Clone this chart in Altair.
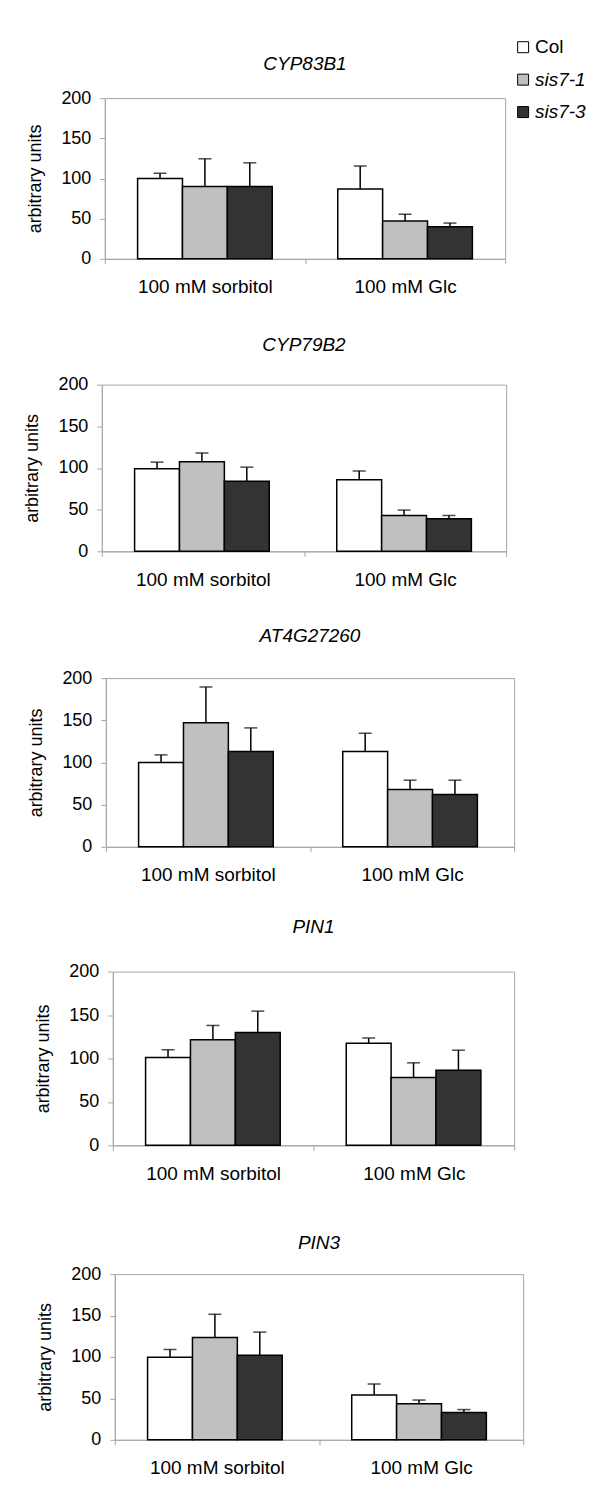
import altair as alt
import pandas as pd

# ---------------- data ----------------
genes = ["CYP83B1", "CYP79B2", "AT4G27260", "PIN1", "PIN3"]
conditions = ["100 mM sorbitol", "100 mM Glc"]
series = ["Col", "sis7-1", "sis7-3"]
series_colors = ["#ffffff", "#c0c0c0", "#333333"]

# values ordered: sorbitol (Col, sis7-1, sis7-3), Glc (Col, sis7-1, sis7-3)
cyp83b1_mean = [100, 90, 90, 87, 47, 40]
cyp83b1_err = [6.5, 34.5, 29.5, 28.5, 8.5, 4.5]
cyp79b2_mean = [99, 107.5, 84, 86, 43, 39]
cyp79b2_err = [8, 10.5, 17, 10.5, 6.5, 4]
at4g27260_mean = [100, 147, 113, 113, 68, 62]
at4g27260_err = [9, 42.5, 28, 21.5, 11, 17]
pin1_mean = [101, 121.5, 130, 117.5, 78, 86.5]
pin1_err = [9, 16.5, 24.5, 6, 17, 23]
pin3_mean = [99.5, 123.5, 102, 54, 43.5, 33]
pin3_err = [9.5, 28, 28, 13.5, 4.5, 3.5]

means = [cyp83b1_mean, cyp79b2_mean, at4g27260_mean, pin1_mean, pin3_mean]
errs = [cyp83b1_err, cyp79b2_err, at4g27260_err, pin1_err, pin3_err]
y_ticks = [0, 50, 100, 150, 200]

# ---------------- layout ----------------
panel_w = [401, 405, 409, 402, 409]
panel_h = [161, 167, 169, 174, 166]
left_shift = [4, 1, 5, 12, 14]
row_h = [236, 241, 238, 261, 10]
title_off = [15, 21, 23, 26, 12]

FONT = "Liberation Sans"
FS = 18
GRAY = "#a6a6a6"

fill_scale = alt.Scale(domain=series, range=series_colors)


def make_df(mean, err):
    rows = []
    k = 0
    for c in conditions:
        for s in series:
            rows.append({"condition": c, "series": s, "value": mean[k], "err": err[k]})
            k += 1
    return pd.DataFrame(rows)


def panel(i):
    df = make_df(means[i], errs[i])
    base = alt.Chart(df).transform_calculate(top="datum.value + datum.err")
    x = alt.X(
        "condition:N",
        sort=conditions,
        scale=alt.Scale(paddingInner=0, paddingOuter=0),
        axis=alt.Axis(title=None, labelAngle=0, tickBand="extent", tickSize=5,
                      labelPadding=14, labelFontSize=19, domainColor=GRAY,
                      tickColor=GRAY),
    )
    xo = alt.XOffset("series:N", sort=series,
                     scale=alt.Scale(paddingInner=0, paddingOuter=0.73))
    yscale = alt.Scale(domain=[0, 200], nice=False)
    yaxis = alt.Axis(values=y_ticks, title="arbitrary units", tickSize=5,
                     labelPadding=9, titlePadding=16, domainColor=GRAY,
                     tickColor=GRAY)
    bars = base.mark_bar(stroke="black", strokeWidth=1.5).encode(
        x=x, xOffset=xo, y=alt.Y("value:Q", scale=yscale, axis=yaxis),
        fill=alt.Fill("series:N", scale=fill_scale, legend=None),
    )
    rules = base.mark_rule(color="black", strokeWidth=1.5).encode(
        x=x, xOffset=xo, y=alt.Y("value:Q", scale=yscale, axis=yaxis), y2="top:Q"
    )
    caps = base.mark_tick(color="black", thickness=1.5, size=13, orient="horizontal").encode(
        x=x, xOffset=xo, y=alt.Y("top:Q", scale=yscale, axis=yaxis)
    )
    return alt.layer(bars, rules, caps).properties(
        width=panel_w[i], height=panel_h[i],
        title=alt.Title(genes[i], font=FONT, fontSize=19, fontStyle="italic",
                        fontWeight="normal", color="black", offset=title_off[i],
                        anchor="middle"),
        view=alt.ViewBackground(stroke=GRAY, strokeWidth=1),
    )


def legend_chart():
    leg_df = pd.DataFrame({"series": series})
    leg_y = alt.Y("series:N", sort=series, axis=None,
                  scale=alt.Scale(type="point", domain=series, range=[-51, 14], padding=0))
    squares = alt.Chart(leg_df).mark_square(size=121, stroke="black", strokeWidth=1,
                                            opacity=1).encode(
        x=alt.value(16), y=leg_y,
        fill=alt.Fill("series:N", scale=fill_scale, legend=None),
    )
    txt_col = alt.Chart(leg_df).transform_filter("datum.series == 'Col'").mark_text(
        align="left", baseline="middle", font=FONT, fontSize=19, color="black"
    ).encode(x=alt.value(28), y=leg_y, text="series:N")
    txt_sis = alt.Chart(leg_df).transform_filter("datum.series != 'Col'").mark_text(
        align="left", baseline="middle", font=FONT, fontSize=19, color="black",
        fontStyle="italic"
    ).encode(x=alt.value(28), y=leg_y, text="series:N")
    return alt.layer(squares, txt_col, txt_sis).properties(
        width=70, height=20, view=alt.ViewBackground(stroke="transparent"))


def spacer(w, h):
    return alt.Chart(pd.DataFrame({"s": [0]})).mark_point(size=0, opacity=0).encode(
        x=alt.value(0), y=alt.value(0)
    ).properties(width=w, height=h,
                 view=alt.ViewBackground(stroke="transparent"))


rows = []
for i in range(len(genes)):
    cells = [spacer(left_shift[i], row_h[i]), panel(i)]
    if i == 0:
        cells.append(legend_chart())
    rows.append(alt.hconcat(*cells, spacing=0))

chart = alt.vconcat(*rows, spacing=0).properties(
    padding={"left": 12, "top": 28, "right": 5, "bottom": 5}
).configure_axis(
    labelFont=FONT, labelFontSize=FS, labelColor="black",
    titleFont=FONT, titleFontSize=FS, titleFontWeight="normal", titleColor="black",
    grid=False,
).configure_view(stroke=GRAY)

chart.save("out.html", embed_options={"renderer": "svg", "actions": False})
